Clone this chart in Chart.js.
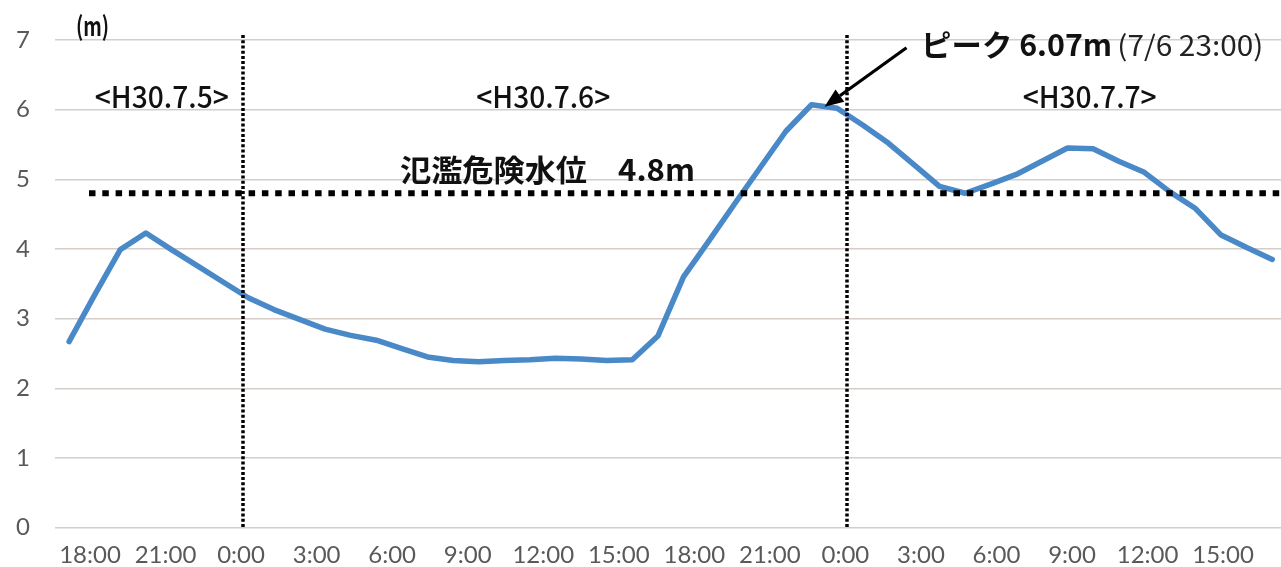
<!DOCTYPE html>
<html lang="ja">
<head>
<meta charset="utf-8">
<title>水位の推移</title>
<script src="https://cdn.jsdelivr.net/npm/chart.js@4.4.1/dist/chart.umd.min.js"></script>
<style>
  html, body { margin: 0; padding: 0; background: #fff; }
  #wrap { width: 1281px; height: 567px; }
</style>
</head>
<body>
<div id="wrap"><canvas id="c" width="1281" height="567"></canvas></div>
<script>
// Hourly readings: hours elapsed since 7/5 18:00 (H30), through 7/7 17:00
const readingHours = [
   0,  1,  2,  3,  4,  5,  6,  7,  8,  9, 10, 11,
  12, 13, 14, 15, 16, 17, 18, 19, 20, 21, 22, 23,
  24, 25, 26, 27, 28, 29, 30, 31, 32, 33, 34, 35,
  36, 37, 38, 39, 40, 41, 42, 43, 44, 45, 46, 47
];
// Water level (m) at each reading
const waterLevels = [
  2.67, 3.34, 3.99, 4.23, 3.99, 3.76, 3.53, 3.30, 3.13, 2.99, 2.85, 2.76,
  2.69, 2.57, 2.45, 2.40, 2.38, 2.40, 2.41, 2.43, 2.42, 2.40, 2.41, 2.75,
  3.60, 4.12, 4.65, 5.17, 5.69, 6.07, 6.02, 5.78, 5.52, 5.21, 4.90, 4.80,
  4.93, 5.07, 5.26, 5.45, 5.44, 5.26, 5.10, 4.82, 4.58, 4.20, 4.02, 3.85
];
// Time axis ticks (hours since 7/5 18:00) and their labels
const tickHours  = [0, 3, 6, 9, 12, 15, 18, 21, 24, 27, 30, 33, 36, 39, 42, 45];
const tickLabels = ['18:00', '21:00', '0:00', '3:00', '6:00', '9:00', '12:00', '15:00',
                    '18:00', '21:00', '0:00', '3:00', '6:00', '9:00', '12:00', '15:00'];
// Midnight boundaries between days, and the date captions
const dayBreakHours = [6, 30];
const dateCaptions  = ['<H30.7.5>', '<H30.7.6>', '<H30.7.7>'];
const dateCaptionHours = [2.85, 18.0, 39.7];
// Flood danger water level (m)
const floodLevel = 4.8;

const JP = '"Noto Sans CJK JP", "Noto Sans", sans-serif';

// Draw text centred at (cx, cy), squeezed horizontally to the given width
function fitText(ctx, text, cx, cy, font, width, color) {
  ctx.save();
  ctx.font = font;
  ctx.fillStyle = color;
  ctx.textAlign = 'center';
  ctx.textBaseline = 'middle';
  const w = ctx.measureText(text).width;
  ctx.translate(cx, cy);
  ctx.scale(width / w, 1);
  ctx.fillText(text, 0, 0);
  ctx.restore();
}

const annotations = {
  id: 'annotations',
  afterDatasetsDraw(chart) {
    const { ctx, chartArea, scales: { x, xt, y } } = chart;
    ctx.save();

    // day boundaries (dotted verticals)
    ctx.strokeStyle = '#000';
    ctx.lineWidth = 3.5;
    ctx.setLineDash([3, 2.2]);
    dayBreakHours.forEach(h => {
      const px = Math.round(xt.getPixelForValue(h)) + 2;
      ctx.beginPath();
      ctx.moveTo(px, y.getPixelForValue(7.07));
      ctx.lineTo(px, y.getPixelForValue(0));
      ctx.stroke();
    });

    // flood danger level (square-dotted horizontal)
    const fy = y.getPixelForValue(floodLevel);
    ctx.lineWidth = 6;
    ctx.setLineDash([6.5, 6.8]);
    ctx.beginPath();
    ctx.moveTo(xt.getPixelForValue(0) - 1, fy);
    ctx.lineTo(chartArea.right, fy);
    ctx.stroke();
    ctx.setLineDash([]);

    // unit
    fitText(ctx, '(m)', xt.getPixelForValue(0.1), y.getPixelForValue(7.2),
            '600 26px ' + JP, 33, '#111');

    // date captions
    dateCaptions.forEach((t, i) => {
      fitText(ctx, t, xt.getPixelForValue(dateCaptionHours[i]), y.getPixelForValue(6.19),
              '500 30px ' + JP, 134, '#111');
    });

    // flood level caption
    fitText(ctx, '氾濫危険水位　' + floodLevel.toFixed(1) + 'm',
            xt.getPixelForValue(18.17), y.getPixelForValue(floodLevel + 0.34),
            'bold 30px ' + JP, 295, '#111');

    // peak caption and arrow
    const peak = Math.max(...waterLevels);
    const pk = waterLevels.indexOf(peak);
    const clock = 18 + readingHours[pk];
    const peakWhen = '7/' + (5 + Math.floor(clock / 24)) + ' ' + (clock % 24) + ':00';
    fitText(ctx, 'ピーク 6.07m'.replace('6.07', peak.toFixed(2)),
            xt.getPixelForValue(36.8), y.getPixelForValue(6.94),
            'bold 30px ' + JP, 191, '#111');
    fitText(ctx, '(' + peakWhen + ')', xt.getPixelForValue(43.7), y.getPixelForValue(6.93),
            '400 28px ' + JP, 146, '#222');

    const tipX = x.getPixelForValue(readingHours[pk]) + 13;
    const tipY = y.getPixelForValue(peak) + 2;
    const tailX = tipX + 82, tailY = tipY - 59;
    const ang = Math.atan2(tipY - tailY, tipX - tailX);
    const headLen = 19, headHalf = 7.5;
    const baseX = tipX - headLen * Math.cos(ang), baseY = tipY - headLen * Math.sin(ang);
    ctx.strokeStyle = '#000';
    ctx.fillStyle = '#000';
    ctx.lineWidth = 3.2;
    ctx.beginPath();
    ctx.moveTo(tailX, tailY);
    ctx.lineTo(baseX, baseY);
    ctx.stroke();
    ctx.beginPath();
    ctx.moveTo(tipX, tipY);
    ctx.lineTo(baseX + headHalf * Math.sin(ang), baseY - headHalf * Math.cos(ang));
    ctx.lineTo(baseX - headHalf * Math.sin(ang), baseY + headHalf * Math.cos(ang));
    ctx.closePath();
    ctx.fill();

    ctx.restore();
  }
};

new Chart(document.getElementById('c'), {
  type: 'line',
  data: {
    datasets: [{
      data: waterLevels.map((v, i) => ({ x: readingHours[i], y: v })),
      xAxisID: 'x',
      yAxisID: 'y',
      borderColor: '#4a89c8',
      borderWidth: 5.5,
      borderCapStyle: 'round',
      borderJoinStyle: 'round',
      pointRadius: 0,
      tension: 0,
      fill: false
    }]
  },
  options: {
    responsive: false,
    animation: false,
    devicePixelRatio: 1,
    layout: { padding: { top: 40, left: 0, right: 0, bottom: 0 } },
    plugins: { legend: { display: false }, tooltip: { enabled: false } },
    scales: {
      x: { type: 'linear', display: false, min: -0.55, max: 47.34 },
      xt: {
        type: 'linear',
        position: 'bottom',
        min: -1.39,
        max: 47.30,
        grid: { display: false, drawTicks: false },
        border: { display: false },
        afterBuildTicks: s => { s.ticks = tickHours.map(v => ({ value: v })); },
        afterFit: s => { s.height = 38; },
        ticks: {
          autoSkip: false,
          maxRotation: 0,
          padding: 13,
          color: '#595959',
          font: { family: 'Lato', size: 24 },
          callback: (v, i) => tickLabels[i]
        }
      },
      y: {
        min: 0,
        max: 7,
        afterFit: s => { s.width = 55; },
        grid: { color: '#d6cdc9', lineWidth: 1.5, drawTicks: false },
        border: { display: false },
        ticks: {
          stepSize: 1,
          padding: 25,
          color: '#595959',
          font: { family: 'Lato', size: 24 }
        }
      }
    }
  },
  plugins: [annotations]
});
</script>
</body>
</html>
